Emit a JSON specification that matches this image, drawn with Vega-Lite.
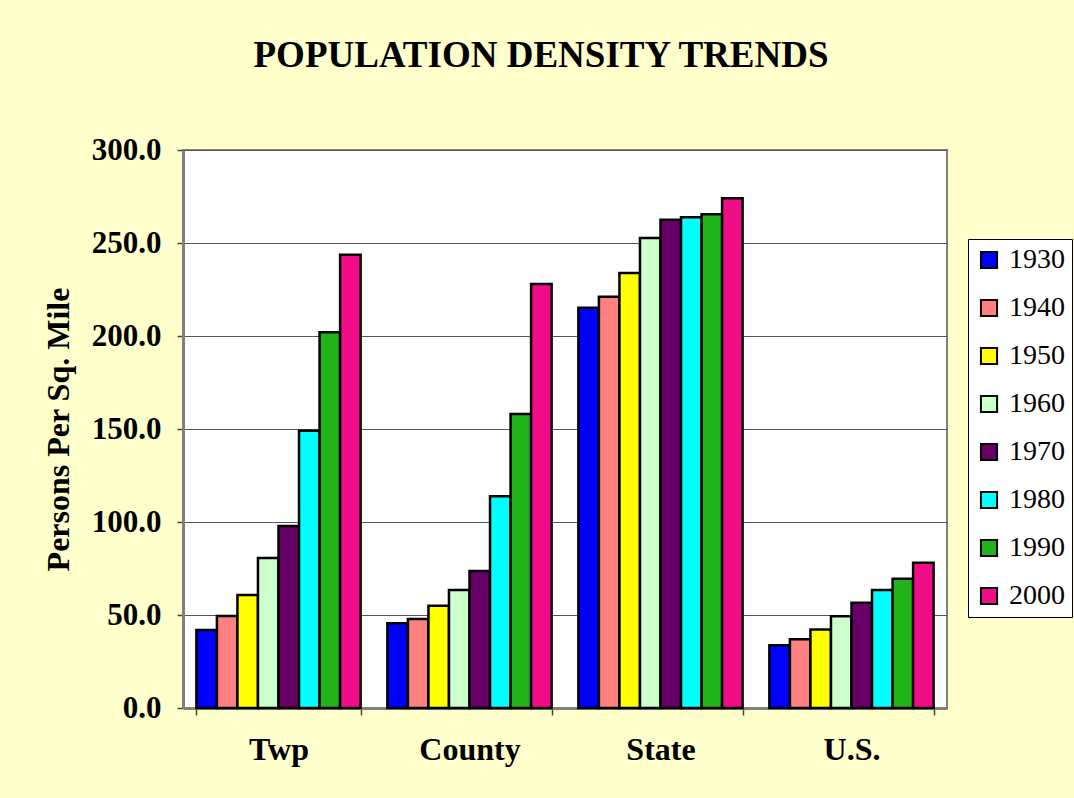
{
  "$schema": "https://vega.github.io/schema/vega-lite/v6.json",
  "autosize": {"type": "none"},
  "padding": {"left": 183, "top": 150, "right": 127, "bottom": 90},
  "width": 764,
  "height": 558,
  "background": "#FFFFCC",
  "title": {
    "text": "POPULATION DENSITY TRENDS",
    "font": "Liberation Serif",
    "fontSize": 37,
    "fontWeight": "bold",
    "color": "#000000",
    "anchor": "middle",
    "frame": "group",
    "dx": -24,
    "baseline": "alphabetic",
    "offset": 30
  },
  "data": {
    "values": [
      {"region": "Twp", "year": "1930", "density": 42.0},
      {"region": "Twp", "year": "1940", "density": 49.5},
      {"region": "Twp", "year": "1950", "density": 60.7},
      {"region": "Twp", "year": "1960", "density": 80.7},
      {"region": "Twp", "year": "1970", "density": 97.9},
      {"region": "Twp", "year": "1980", "density": 149.0},
      {"region": "Twp", "year": "1990", "density": 202.0},
      {"region": "Twp", "year": "2000", "density": 243.7},
      {"region": "County", "year": "1930", "density": 45.5},
      {"region": "County", "year": "1940", "density": 47.9},
      {"region": "County", "year": "1950", "density": 55.0},
      {"region": "County", "year": "1960", "density": 63.4},
      {"region": "County", "year": "1970", "density": 73.6},
      {"region": "County", "year": "1980", "density": 113.8},
      {"region": "County", "year": "1990", "density": 158.0},
      {"region": "County", "year": "2000", "density": 227.9},
      {"region": "State", "year": "1930", "density": 215.2},
      {"region": "State", "year": "1940", "density": 221.1},
      {"region": "State", "year": "1950", "density": 233.9},
      {"region": "State", "year": "1960", "density": 252.7},
      {"region": "State", "year": "1970", "density": 262.5},
      {"region": "State", "year": "1980", "density": 263.9},
      {"region": "State", "year": "1990", "density": 265.5},
      {"region": "State", "year": "2000", "density": 274.1},
      {"region": "U.S.", "year": "1930", "density": 33.8},
      {"region": "U.S.", "year": "1940", "density": 37.0},
      {"region": "U.S.", "year": "1950", "density": 42.2},
      {"region": "U.S.", "year": "1960", "density": 49.3},
      {"region": "U.S.", "year": "1970", "density": 56.6},
      {"region": "U.S.", "year": "1980", "density": 63.4},
      {"region": "U.S.", "year": "1990", "density": 69.5},
      {"region": "U.S.", "year": "2000", "density": 78.1}
    ]
  },
  "mark": {"type": "bar", "stroke": "#000000", "strokeWidth": 2.5},
  "encoding": {
    "x": {
      "field": "region",
      "type": "nominal",
      "sort": ["Twp", "County", "State", "U.S."],
      "scale": {"paddingInner": 0.14, "paddingOuter": 0.07},
      "axis": {
        "title": null,
        "labelAngle": 0,
        "labelFont": "Liberation Serif",
        "labelFontSize": 32,
        "labelFontWeight": "bold",
        "labelColor": "#000000",
        "labelBaseline": "top",
        "labelPadding": 19,
        "tickBand": "extent",
        "tickSize": 7,
        "tickColor": "#404040",
        "tickWidth": 1.5,
        "domainColor": "#808080",
        "domainWidth": 3,
        "grid": false
      }
    },
    "xOffset": {
      "field": "year",
      "type": "nominal",
      "scale": {"paddingInner": 0, "paddingOuter": 0}
    },
    "y": {
      "field": "density",
      "type": "quantitative",
      "scale": {"domain": [0, 300], "nice": false},
      "axis": {
        "title": "Persons Per Sq. Mile",
        "titleFont": "Liberation Serif",
        "titleFontSize": 32,
        "titleFontWeight": "bold",
        "titleColor": "#000000",
        "titleAngle": -90,
        "titleAlign": "center",
        "titleBaseline": "middle",
        "titleX": -125,
        "titleY": 279,
        "values": [0, 50, 100, 150, 200, 250, 300],
        "format": ".1f",
        "labelFont": "Liberation Serif",
        "labelFontSize": 31,
        "labelFontWeight": "bold",
        "labelColor": "#000000",
        "labelPadding": 16,
        "tickSize": 6,
        "tickColor": "#404040",
        "tickWidth": 1.5,
        "domainColor": "#808080",
        "domainWidth": 3,
        "grid": true,
        "gridColor": "#555555",
        "gridWidth": 1.2
      }
    },
    "color": {
      "field": "year",
      "type": "nominal",
      "scale": {
        "domain": ["1930", "1940", "1950", "1960", "1970", "1980", "1990", "2000"],
        "range": ["#0000FF", "#FF8080", "#FFFF00", "#CCFFCC", "#660066", "#00FFFF", "#20B41A", "#F00D87"]
      },
      "legend": {
        "title": null,
        "orient": "none",
        "legendX": 785,
        "legendY": 89,
        "fillColor": "#FFFFFF",
        "strokeColor": "#000000",
        "padding": 7,
        "symbolType": "square",
        "symbolSize": 260,
        "symbolStrokeColor": "#000000",
        "symbolStrokeWidth": 2,
        "labelFont": "Liberation Serif",
        "labelFontSize": 28,
        "labelColor": "#000000",
        "labelOffset": 6,
        "rowPadding": 20,
        "labelLimit": 200
      }
    }
  },
  "config": {
    "view": {"stroke": "#808080", "strokeWidth": 2, "fill": "#FFFFFF"},
    "legend": {"labelFont": "Liberation Serif", "labelFontSize": 28}
  }
}
